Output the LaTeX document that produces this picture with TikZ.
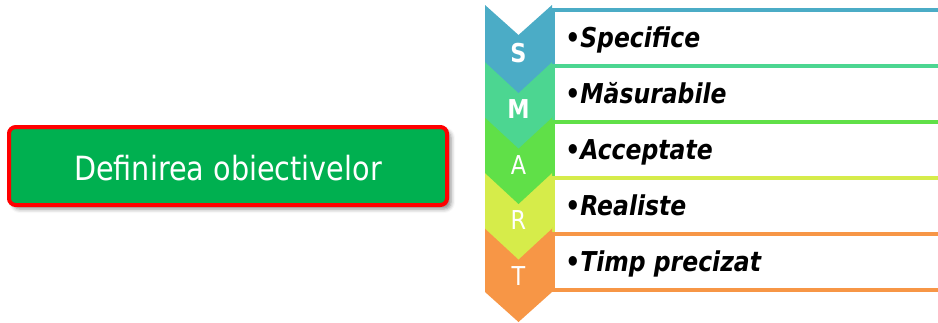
\documentclass[tikz,border=0pt]{standalone}
\usepackage{fontspec}
\setmainfont[FakeStretch=0.86]{DejaVu Sans}
\usetikzlibrary{shadows.blur}

\definecolor{smartS}{RGB}{75,172,198}
\definecolor{smartM}{RGB}{76,214,145}
\definecolor{smartA}{RGB}{96,224,72}
\definecolor{smartR}{RGB}{214,236,74}
\definecolor{smartT}{RGB}{247,150,70}
\definecolor{boxgreen}{RGB}{0,176,80}

\tikzset{
  rowbox/.style={line width=3pt, fill=white},
  chevron/.style={draw=none},
  letter/.style={anchor=base, inner sep=0.75pt, text=white, font=\fontsize{19.5}{22}\selectfont},
  rowtext/.style={anchor=base west, inner sep=0.75pt, font=\fontsize{20.5}{24}\selectfont\bfseries\itshape},
}

\begin{document}
\begin{tikzpicture}[x=0.75pt,y=0.75pt,yscale=-1,xscale=1]
\useasboundingbox (0,0) rectangle (938,322);

% left box
\draw [draw=red, line width=3pt, fill=boxgreen, rounded corners=5pt, blur shadow={shadow xshift=3pt, shadow yshift=-3pt, shadow blur radius=3pt, shadow opacity=45}] (9,127) rectangle (447,205);
\node (definire) [anchor=base, inner sep=0.75pt, text=white, font=\fontsize{25}{30}\selectfont] at (228,180) {Definirea obiectivelor};

% rows
\draw [rowbox, draw=smartS] (553,10) rectangle (950,66);
\draw [rowbox, draw=smartM] (553,66) rectangle (950,122);
\draw [rowbox, draw=smartA] (553,122) rectangle (950,178);
\draw [rowbox, draw=smartR] (553,178) rectangle (950,234);
\draw [rowbox, draw=smartT] (553,234) rectangle (950,290);

% chevrons, from bottom to top so S lies over M
\fill [smartT] (485,227) -- (518.5,257) -- (552,227) -- (552,292) -- (518.5,322) -- (485,292) -- cycle;
\fill [smartR] (485,171.5) -- (518.5,201.5) -- (552,171.5) -- (552,228.5) -- (518.5,259.5) -- (485,228.5) -- cycle;
\fill [smartA] (485,116) -- (518.5,146) -- (552,116) -- (552,173) -- (518.5,204) -- (485,173) -- cycle;
\fill [smartM] (485,60.5) -- (518.5,90.5) -- (552,60.5) -- (552,117.5) -- (518.5,148.5) -- (485,117.5) -- cycle;
\fill [smartS] (485,5) -- (518.5,35) -- (552,5) -- (552,62) -- (518.5,93) -- (485,62) -- cycle;

\node (letS) [letter, font=\fontsize{19.5}{22}\selectfont\bfseries] at (518.5,62) {S};
\node (letM) [letter, font=\fontsize{19.5}{22}\selectfont\bfseries] at (518.5,118) {M};
\node (letA) [letter] at (518.5,174) {A};
\node (letR) [letter] at (518.5,229) {R};
\node (letT) [letter] at (518.5,285) {T};

\node (specifice) [rowtext] at (564,47) {•Specifice};
\node (masurabile) [rowtext] at (564,103) {•Măsurabile};
\node (acceptate) [rowtext] at (564,159) {•Acceptate};
\node (realiste) [rowtext] at (564,215) {•Realiste};
\node (timp) [rowtext] at (564,271) {•Timp precizat};
\end{tikzpicture}
\end{document}
